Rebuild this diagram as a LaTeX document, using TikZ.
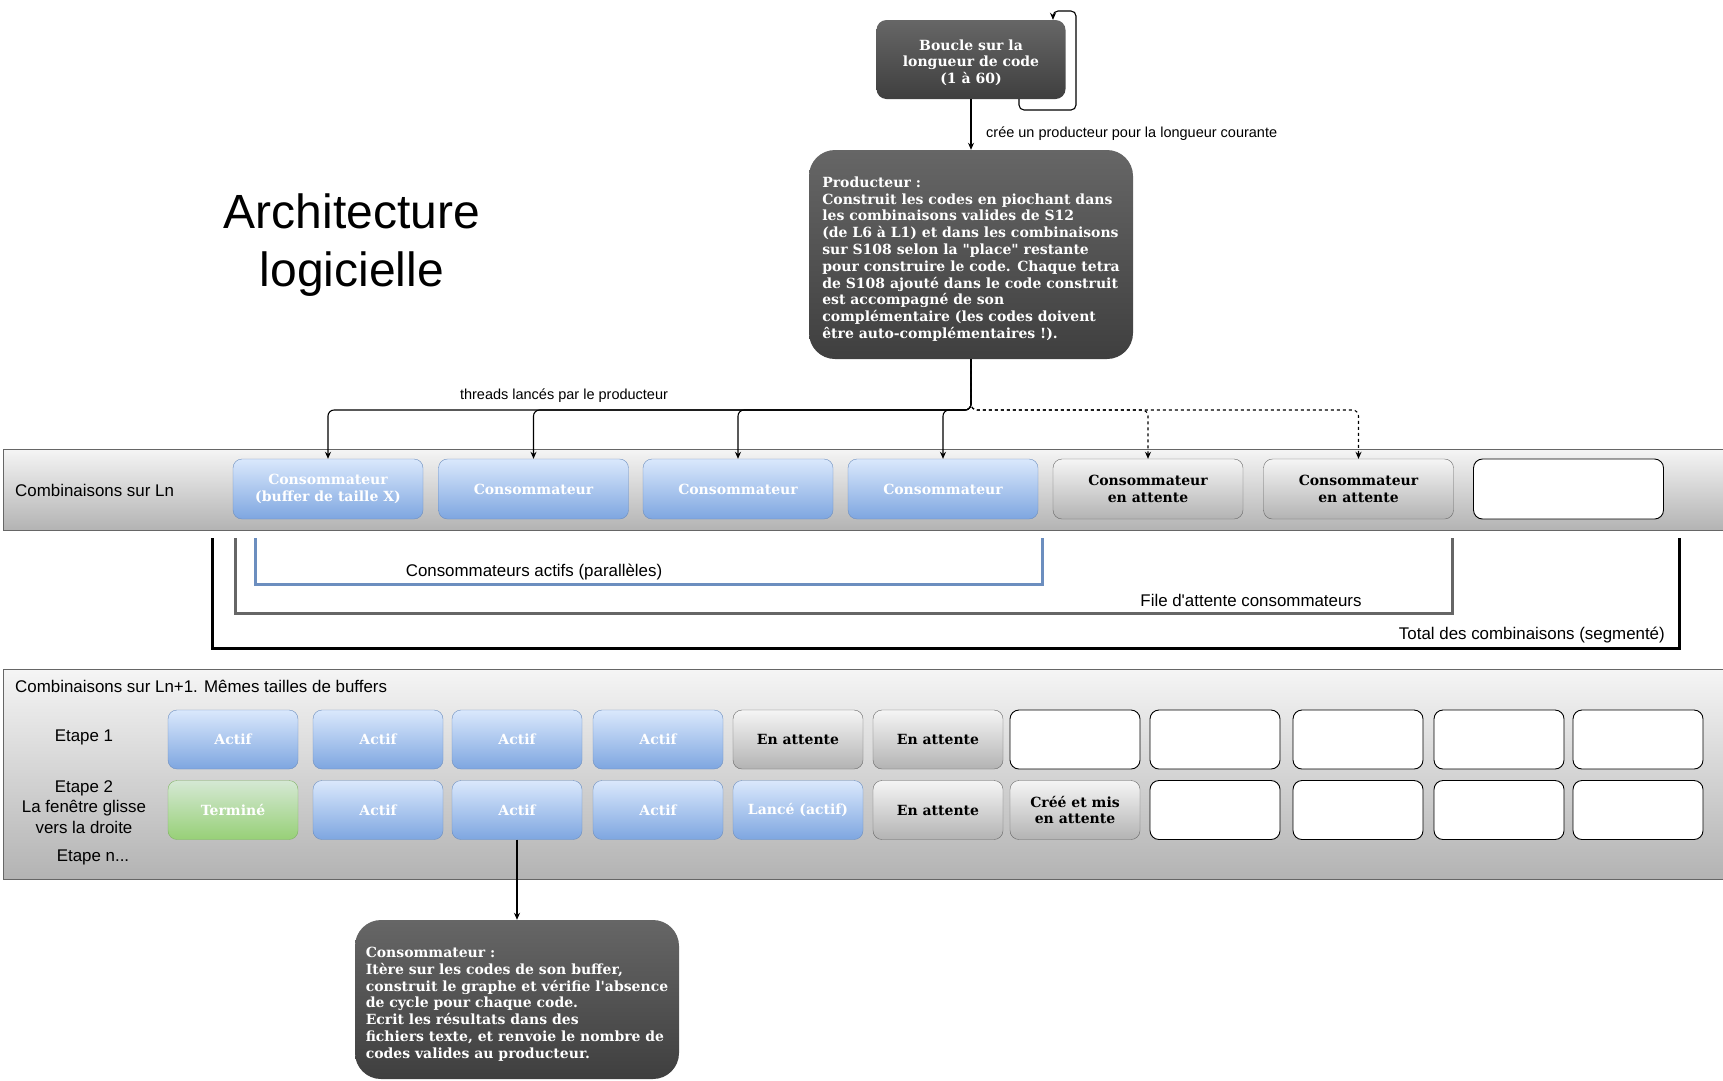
\documentclass[tikz,border=0pt]{standalone}
\usepackage{fontspec}
\setmainfont{Liberation Sans}[Ligatures=TeXOff]
\newfontfamily\boxfont{DejaVu Serif}[Ligatures=TeXOff]
\usetikzlibrary{arrows.meta}

\definecolor{darktop}{HTML}{666666}
\definecolor{darkbot}{HTML}{3F3F3F}
\definecolor{bluetop}{HTML}{DAE8FC}
\definecolor{bluebot}{HTML}{7EA6E0}
\definecolor{blueline}{HTML}{6C8EBF}
\definecolor{greytop}{HTML}{F5F5F5}
\definecolor{greybot}{HTML}{B3B3B3}
\definecolor{greyline}{HTML}{666666}
\definecolor{greentop}{HTML}{D5E8D4}
\definecolor{greenbot}{HTML}{97D077}
\definecolor{greenline}{HTML}{82B366}

% text block lowered inside its box
\newcommand{\darktext}[3]{\raisebox{-#1}[\height][\depth]{\begin{tabular}{@{}#2@{}}#3\end{tabular}}}

\tikzset{
	boxtext/.style={font=\boxfont\bfseries\fontsize{14}{16.8}\selectfont},
	cell/.style={boxtext, rounded corners=9, minimum width=190, minimum height=60, inner sep=0pt, align=center},
	rowcell/.style={cell, minimum width=130, minimum height=59},
	actif/.style={top color=bluetop, bottom color=bluebot, draw=blueline, text=white},
	attente/.style={top color=greytop, bottom color=greybot, draw=greyline, text=black},
	termine/.style={top color=greentop, bottom color=greenbot, draw=greenline, text=white},
	vide/.style={fill=white, draw=black, line width=0.9},
	darkbox/.style={boxtext, top color=darktop, bottom color=darkbot, draw=none, text=white, rounded corners=26, inner sep=0pt},
	band/.style={top color=greytop, bottom color=greybot, draw=greyline, line width=0.9},
	conn/.style={draw=black, line width=1.1, -{Stealth[length=7, width=6]}},
	lbl/.style={font=\fontsize{14.5}{17}\selectfont, inner sep=0pt},
	biglbl/.style={font=\fontsize{16.9}{20.5}\selectfont, inner sep=0pt},
}

\begin{document}
\begin{tikzpicture}[x=1pt, y=-1pt]
			%%%%% START %%%%%
			\useasboundingbox (0,0) rectangle (1723,1080);
			
			% bands
			\path[band] (3,449) rectangle (1730,530);
			\path[band] (3,669) rectangle (1730,879);
			
			% title
			\node[font=\fontsize{48}{58}\selectfont, align=center] (titre) at (352,245) {Architecture\\logicielle};
			
			% loop and producer
			\node[darkbox, minimum width=189, minimum height=79, rounded corners=10] (boucle) at (971,59.5) {\darktext{4pt}{c}{Boucle sur la\\longueur de code\\(1 à 60)}};
			\node[darkbox, minimum width=324, minimum height=209] (prod) at (971,254.5) {\darktext{5pt}{l}{Producteur :\\Construit les codes en piochant dans\\les combinaisons valides de S12\\(de L6 à L1) et dans les combinaisons\\sur S108 selon la "place" restante\\pour construire le code. Chaque tetra\\de S108 ajouté dans le code construit\\est accompagné de son\\complémentaire (les codes doivent\\être auto-complémentaires !).}};
			
			\draw[conn, rounded corners=5] ([xshift=48]boucle.south) |- (1076,110) |- (1053,11) -- ([xshift=82]boucle.north);
			\draw[conn] (boucle.south) -- (prod.north);
			\node[lbl, anchor=west] (lcree) at (986,134) {crée un producteur pour la longueur courante};
			
			% consumers on Ln
			\node[biglbl, anchor=west] (lln) at (15,490) {Combinaisons sur Ln};
			\node[cell, actif] (c1) at (328,489) {Consommateur\\(buffer de taille X)};
			\node[cell, actif] (c2) at (533.5,489) {Consommateur};
			\node[cell, actif] (c3) at (738,489) {Consommateur};
			\node[cell, actif] (c4) at (943,489) {Consommateur};
			\node[cell, attente] (c5) at (1148,489) {Consommateur\\en attente};
			\node[cell, attente] (c6) at (1358.5,489) {Consommateur\\en attente};
			\node[cell, vide] (c7) at (1568.5,489) {};
			
			\coordinate (bus) at (971,410);
			\draw[conn, rounded corners=6] (prod.south) |- (c1.north |- bus) -- (c1.north);
			\draw[conn, rounded corners=6] (prod.south) |- (c2.north |- bus) -- (c2.north);
			\draw[conn, rounded corners=6] (prod.south) |- (c3.north |- bus) -- (c3.north);
			\draw[conn, rounded corners=6] (prod.south) |- (c4.north |- bus) -- (c4.north);
			\draw[conn, dashed, rounded corners=6] (prod.south) |- (c5.north |- bus) -- (c5.north);
			\draw[conn, dashed, rounded corners=6] (prod.south) |- (c6.north |- bus) -- (c6.north);
			\node[lbl] (lthreads) at (564,396) {threads lancés par le producteur};
			
			% brackets
			\draw[blueline, line width=3] (255,538) |- (1042,584) -- (1042,538);
			\draw[greyline, line width=3] (235,538) |- (1452,613) -- (1452,538);
			\draw[black, line width=3] (212,538) |- (1679,648) -- (1679,538);
			\node[biglbl] (lactifs) at (534,572) {Consommateurs actifs (parallèles)};
			\node[biglbl] (lfile) at (1251,600) {File d'attente consommateurs};
			\node[biglbl, anchor=east] (ltotal) at (1665,635) {Total des combinaisons (segmenté)};
			
			% Ln+1
			\node[biglbl, anchor=west] (lln1) at (15,686) {Combinaisons sur Ln+1. Mêmes tailles de buffers};
			\node[biglbl] (letape1) at (84,737) {Etape 1};
			\node[biglbl, align=center] (letape2) at (84,807) {Etape 2\\La fenêtre glisse\\vers la droite};
			\node[biglbl] (letapen) at (93,857) {Etape n...};
			
			\node[rowcell, actif] (r1c1) at (233,739.5) {Actif};
			\node[rowcell, actif] (r1c2) at (378,739.5) {Actif};
			\node[rowcell, actif] (r1c3) at (517,739.5) {Actif};
			\node[rowcell, actif] (r1c4) at (658,739.5) {Actif};
			\node[rowcell, attente] (r1c5) at (798,739.5) {En attente};
			\node[rowcell, attente] (r1c6) at (938,739.5) {En attente};
			\node[rowcell, vide] (r1c7) at (1075,739.5) {};
			\node[rowcell, vide] (r1c8) at (1215,739.5) {};
			\node[rowcell, vide] (r1c9) at (1358,739.5) {};
			\node[rowcell, vide] (r1c10) at (1499,739.5) {};
			\node[rowcell, vide] (r1c11) at (1638,739.5) {};
			
			\node[rowcell, termine] (r2c1) at (233,810) {Terminé};
			\node[rowcell, actif] (r2c2) at (378,810) {Actif};
			\node[rowcell, actif] (r2c3) at (517,810) {Actif};
			\node[rowcell, actif] (r2c4) at (658,810) {Actif};
			\node[rowcell, actif] (r2c5) at (798,810) {Lancé (actif)};
			\node[rowcell, attente] (r2c6) at (938,810) {En attente};
			\node[rowcell, attente] (r2c7) at (1075,810) {Créé et mis\\en attente};
			\node[rowcell, vide] (r2c8) at (1215,810) {};
			\node[rowcell, vide] (r2c9) at (1358,810) {};
			\node[rowcell, vide] (r2c10) at (1499,810) {};
			\node[rowcell, vide] (r2c11) at (1638,810) {};
			
			% consumer detail
			\node[darkbox, minimum width=324, minimum height=159] (cons) at (517,999.5) {\darktext{5pt}{l}{Consommateur :\\Itère sur les codes de son buffer,\\construit le graphe et vérifie l'absence\\de cycle pour chaque code.\\Ecrit les résultats dans des\\fichiers texte, et renvoie le nombre de\\codes valides au producteur.}};
			\draw[conn] (r2c3.south) -- (cons.north);
			
			%%%%% END %%%%%
\end{tikzpicture}
\end{document}
